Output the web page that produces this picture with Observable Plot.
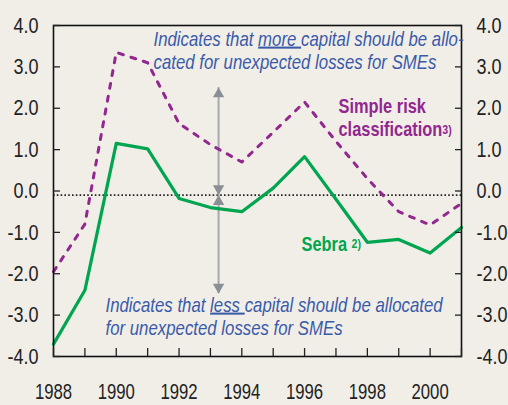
<!DOCTYPE html>
<html><head><meta charset="utf-8">
<script src="https://cdn.jsdelivr.net/npm/d3@7"></script>
<script src="https://cdn.jsdelivr.net/npm/@observablehq/plot@0.6"></script>
<style>
html,body{margin:0;padding:0;background:#f1eee8;}
#chart{width:508px;height:405px;overflow:hidden;}
</style></head><body><div id="chart"></div>
<script>
// ---- data ----
const years = [1988,1989,1990,1991,1992,1993,1994,1995,1996,1997,1998,1999,2000,2001];
const sebra = [-3.7,-2.4,1.15,1.02,-0.18,-0.4,-0.5,0.07,0.83,-0.2,-1.24,-1.17,-1.5,-0.88];
const simpleRisk = [-1.95,-0.8,3.35,3.1,1.63,1.12,0.7,1.42,2.15,1.2,0.3,-0.5,-0.82,-0.3];
const yTicks = [-4,-3,-2,-1,0,1,2,3,4];
const xLabelYears = [1988,1990,1992,1994,1996,1998,2000];
const zeroLine = [-0.1];
const arrowX = 1993.26;
const arrowEnds = [2.5, -2.48];

const FONT = "'Liberation Sans',Arial,sans-serif";
// condensed face emulated by horizontal scaling
const NARROW = 0.82, NARROW_Y = 0.8, NARROW_X = 0.76;
const BLUE = "#3a5ba9", PURPLE = "#92278f", GREEN = "#00a54f", GREY = "#a5a9ad";

const sebraData = years.map((y,i)=>({year:y, v:sebra[i]}));
const riskData = years.map((y,i)=>({year:y, v:simpleRisk[i]}));
const upHeads = [{x:arrowX, y:arrowEnds[0]}, {x:arrowX, y:zeroLine[0]}];
const downHeads = [{x:arrowX, y:zeroLine[0]}, {x:arrowX, y:arrowEnds[1]}];

const note = (s, dx, dy, opts) => Plot.text([s], {frameAnchor:"top-left", dx, dy, textAnchor:"start", lineAnchor:"bottom", ...opts});
const blueOpts = {fill:BLUE, fontSize:20.5, fontStyle:"italic"};

const chart = Plot.plot({
  width: 508, height: 405,
  marginLeft: 53, marginRight: 47, marginTop: 25, marginBottom: 49,
  style: {fontFamily: FONT, background: "#f1eee8", color: "#222"},
  x: {domain: [1988, 2001]},
  y: {domain: [-4, 4]},
  marks: [
    Plot.ruleY(zeroLine, {stroke:"#222", strokeWidth:1.6, strokeDasharray:"1.6,2.2"}),
    Plot.ruleX([arrowX], {y1: arrowEnds[0], y2: arrowEnds[1], stroke: GREY, strokeWidth: 2}),
    Plot.dot(upHeads, {x:"x", y:"y", symbol:"triangle", r:4.2, fill:"#8a8f95", stroke:"none", dy:6.5}),
    Plot.dot(downHeads, {x:"x", y:"y", symbol:"triangle", r:4.2, fill:"#8a8f95", stroke:"none", rotate:180, dy:-6.5}),
    Plot.line(riskData, {x:"year", y:"v", stroke:PURPLE, strokeWidth:3, strokeDasharray:"5,8"}),
    Plot.line(sebraData, {x:"year", y:"v", stroke:GREEN, strokeWidth:3.2}),
    Plot.frame({stroke:"#111", strokeWidth:1.6}),
    Plot.axisY(yTicks, {anchor:"left", tickSize:7, insetLeft:7, tickPadding:15, fontSize:22.5, label:null, tickFormat:d=>d.toFixed(1), strokeWidth:1.3}),
    Plot.axisY(yTicks, {anchor:"right", tickSize:7, insetRight:7, tickPadding:15, fontSize:22.5, label:null, tickFormat:d=>d.toFixed(1), strokeWidth:1.3}),
    Plot.axisX(years, {anchor:"bottom", tickSize:8, insetBottom:8, tickPadding:27, fontSize:22, label:null, tickFormat:d=>xLabelYears.includes(d)?String(d):"", strokeWidth:1.3}),
    note("Indicates that more capital should be allo-", 100, 20, blueOpts),
    note("cated for unexpected losses for SMEs", 100, 43, blueOpts),
    note("Indicates that less capital should be allocated", 52, 286, blueOpts),
    note("for unexpected losses for SMEs", 52, 309, blueOpts),
    note("Simple risk", 285, 87, {fill:PURPLE, fontSize:20, fontWeight:"bold"}),
    note("classification3)", 285, 110, {fill:PURPLE, fontSize:20, fontWeight:"bold"}),
    note("Sebra 2)", 248, 225, {fill:GREEN, fontSize:20, fontWeight:"bold"})
  ]
});

// rich text: underline and superscripts
const rich = {
  "Indicates that more capital should be allo-": 'Indicates that <tspan style="text-decoration:underline">more </tspan>capital should be allo-',
  "Indicates that less capital should be allocated": 'Indicates that <tspan style="text-decoration:underline">less </tspan>capital should be allocated',
  "classification3)": 'classification<tspan font-size="13" dy="-2">3)</tspan>',
  "Sebra 2)": 'Sebra <tspan font-size="13" dy="-3">2)</tspan>'
};
chart.querySelectorAll("text").forEach(t => {
  const k = t.textContent;
  if (rich[k]) t.innerHTML = rich[k];
  let s = NARROW;
  if (t.closest('[aria-label="x-axis tick label"]')) s = NARROW_X;
  else if (t.closest('[aria-label="y-axis tick label"]')) s = NARROW_Y;
  const tr = t.getAttribute("transform");
  if (tr) {
    t.setAttribute("transform", tr + ` scale(${s},1)`);
  } else {
    const x = +t.getAttribute("x") || 0, y = +t.getAttribute("y") || 0;
    t.removeAttribute("x"); t.removeAttribute("y");
    t.setAttribute("transform", `translate(${x},${y}) scale(${s},1)`);
  }
});
document.getElementById("chart").appendChild(chart);
</script>
</body></html>
